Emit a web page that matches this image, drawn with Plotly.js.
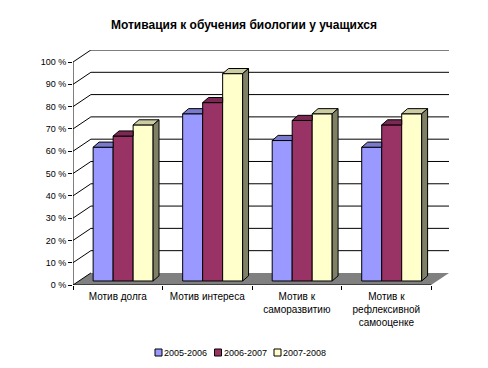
<!DOCTYPE html>
<html>
<head>
<meta charset="utf-8">
<script src="https://cdn.plot.ly/plotly-3.0.1.min.js"></script>
<style>html,body{margin:0;padding:0;background:#fff;}#chart{width:488px;height:368px;}</style>
</head>
<body>
<div id="chart"></div>
<script>
// ---- data ----
const categories = ['Мотив долга', 'Мотив интереса', 'Мотив к<br>саморазвитию', 'Мотив к<br>рефлексивной<br>самооценке'];
const seriesNames = ['2005-2006', '2006-2007', '2007-2008'];
const values2005 = [60, 75, 63, 60];
const values2006 = [65, 80, 72, 70];
const values2007 = [70, 93, 75, 75];
const yTickValues = [0, 10, 20, 30, 40, 50, 60, 70, 80, 90, 100];
const yTickLabels = ['0 %', '10 %', '20 %', '30 %', '40 %', '50 %', '60 %', '70 %', '80 %', '90 %', '100 %'];

// ---- styling / geometry (3D look) ----
const colors = ['#9999FF', '#993366', '#FFFFCC'];
const allValues = [values2005, values2006, values2007];
const nCat = categories.length;
const wallDx = 0.2, wallDy = 5.4;     // depth of the back wall (data units)
const barOx = 0.06, barOy = 1.8;      // front face of bars sits slightly back
const barDx = 0.066, barDy = 2.3;     // depth of each bar
const bargap = 0.33;
const groupW = 1 - bargap;
const barW = groupW / seriesNames.length;

const W = 488, H = 368, M = {l: 73, r: 39, t: 50, b: 83};
const plotW = W - M.l - M.r, plotH = H - M.t - M.b;
const pxToPaperX = px => (px - M.l) / plotW;
const pxToPaperY = py => (H - M.b - py) / plotH;

function shade(hex, f) {
  const n = parseInt(hex.slice(1), 16);
  const r = Math.round(((n >> 16) & 255) * f), g = Math.round(((n >> 8) & 255) * f), b = Math.round((n & 255) * f);
  return 'rgb(' + r + ',' + g + ',' + b + ')';
}

const centers = categories.map((c, i) => i + 0.5 + barOx);
const traces = [];
seriesNames.forEach((name, k) => {
  traces.push({
    type: 'bar', name: name, x: centers, y: allValues[k], base: centers.map(() => barOy),
    marker: {color: colors[k], line: {color: '#000', width: 1}},
    hoverinfo: 'skip', showlegend: false
  });
});
// top and side faces
seriesNames.forEach((name, k) => {
  const tx = [], ty = [], sx = [], sy = [];
  allValues[k].forEach((v, i) => {
    const xl = i + 0.5 + barOx - groupW / 2 + k * barW;
    const xr = xl + barW;
    const top = barOy + v;
    const next = k < seriesNames.length - 1 ? allValues[k + 1][i] : null;
    if (next !== null && next >= v) {
      tx.push(xl, xr, xr, xl + barDx, xl, null);
      ty.push(top, top, top + barDy, top + barDy, top, null);
    } else {
      tx.push(xl, xr, xr + barDx, xl + barDx, xl, null);
      ty.push(top, top, top + barDy, top + barDy, top, null);
      const b = next === null ? barOy : barOy + next;
      sx.push(xr, xr + barDx, xr + barDx, xr, xr, null);
      sy.push(b, b + barDy, top + barDy, top, b, null);
    }
  });
  traces.push({type: 'scatter', mode: 'lines', x: tx, y: ty, fill: 'toself', fillcolor: shade(colors[k], 0.8),
    line: {color: '#000', width: 1}, showlegend: false, hoverinfo: 'skip'});
  if (sx.length) traces.push({type: 'scatter', mode: 'lines', x: sx, y: sy, fill: 'toself', fillcolor: shade(colors[k], 0.5),
    line: {color: '#000', width: 1}, showlegend: false, hoverinfo: 'skip'});
});

// walls, floor, gridlines
const shapes = [];
shapes.push({type: 'path', layer: 'below', xref: 'x', yref: 'y',
  path: `M0,0 L${nCat},0 L${nCat + wallDx},${wallDy} L${wallDx},${wallDy} Z`,
  fillcolor: '#808080', line: {width: 0}});
yTickValues.forEach(v => {
  const p = v === 0 ? `M0,${v} L${wallDx},${v + wallDy}`
    : `M0,${v} L${wallDx},${v + wallDy} L${nCat + wallDx},${v + wallDy}`;
  shapes.push({type: 'path', layer: 'below', xref: 'x', yref: 'y', path: p, line: {color: '#000', width: 1}});
});
shapes.push({type: 'line', layer: 'below', xref: 'x', yref: 'y', x0: 0, x1: 0, y0: 0, y1: yTickValues[yTickValues.length - 1], line: {color: '#000', width: 1}});
shapes.push({type: 'line', layer: 'below', xref: 'x', yref: 'y', x0: 0, x1: nCat, y0: 0, y1: 0, line: {color: '#000', width: 1}});

// compact legend (square swatch + label)
const annotations = [];
const legendFont = {family: 'Arial, "Liberation Sans", sans-serif', size: 9, color: '#000'};
const legendStart = 155, legendStep = 59.5, legendY = 352.5, sw = 7;
seriesNames.forEach((name, k) => {
  const x0 = legendStart + k * legendStep;
  shapes.push({type: 'rect', xref: 'paper', yref: 'paper',
    x0: pxToPaperX(x0), x1: pxToPaperX(x0 + sw), y0: pxToPaperY(legendY + sw / 2), y1: pxToPaperY(legendY - sw / 2),
    fillcolor: colors[k], line: {color: '#000', width: 1}});
  annotations.push({xref: 'paper', yref: 'paper', x: pxToPaperX(x0 + sw + 1), y: pxToPaperY(legendY),
    xanchor: 'left', yanchor: 'middle', text: name, showarrow: false, font: legendFont, borderpad: 0});
});

const font = {family: 'Arial, "Liberation Sans", sans-serif', size: 9, color: '#000'};
const catFont = {family: 'Arial, "Liberation Sans", sans-serif', size: 10, color: '#000'};
const layout = {
  width: W, height: H,
  margin: M,
  paper_bgcolor: '#fff', plot_bgcolor: 'rgba(0,0,0,0)',
  font: font,
  title: {text: '<b>Мотивация к обучения биологии у учащихся</b>', font: {family: 'Arial, "Liberation Sans", sans-serif', size: 12, color: '#000'},
    x: 0.5, xref: 'container', y: 1 - 25 / H, yref: 'container', yanchor: 'middle'},
  barmode: 'group', bargap: bargap, bargroupgap: 0,
  xaxis: {range: [0, nCat + wallDx], tickvals: categories.map((c, i) => i + 0.5), ticktext: categories,
    ticks: '', ticklabelstandoff: 4, showgrid: false, zeroline: false, showline: false, fixedrange: true, tickfont: catFont,
    minor: {tickvals: categories.map((c, i) => i).concat([nCat]), ticks: 'outside', ticklen: 4, tickcolor: '#000', showgrid: false}},
  yaxis: {range: [0, 100 + wallDy], tickvals: yTickValues, ticktext: yTickLabels, ticks: 'outside', ticklen: 4, tickcolor: '#000',
    showgrid: false, zeroline: false, showline: false, fixedrange: true, tickfont: font},
  shapes: shapes,
  annotations: annotations,
  showlegend: false
};
Plotly.newPlot('chart', traces, layout, {displayModeBar: false, staticPlot: true});
</script>
</body>
</html>
